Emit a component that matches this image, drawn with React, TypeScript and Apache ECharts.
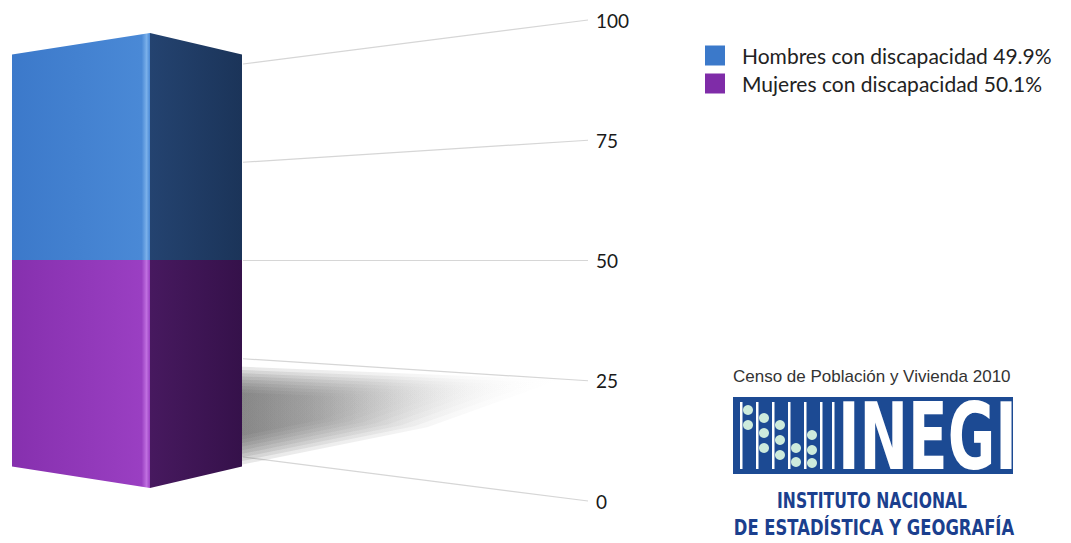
import React, { useEffect, useRef } from 'react';
import * as echarts from 'echarts';

// ---- data ----
const categories = ['Población con discapacidad'];
const seriesNames = ['Hombres con discapacidad', 'Mujeres con discapacidad'];
const hombres = [49.9];
const mujeres = [50.1];
const yTicks = [0, 25, 50, 75, 100];
const yMin = 0;
const yMax = 100;
const yInterval = 25;
const sourceText = 'Censo de Población y Vivienda 2010';
const logoWord = 'INEGI';
const instLine1 = 'INSTITUTO NACIONAL';
const instLine2 = 'DE ESTADÍSTICA Y GEOGRAFÍA';

// perspective factors (relative to eye level)
const FRONT_K = 0.946;
const SIDE_K = 0.857;
const GRID_K = 0.817;
const FRONT_POS = 0.6;

const pct: Record<string, number> = {
  [seriesNames[0]]: hombres[0],
  [seriesNames[1]]: mujeres[0],
};

export default function App() {
  const ref = useRef<HTMLDivElement>(null);

  useEffect(() => {
    const chart = echarts.init(ref.current!, null, { renderer: 'svg' });
    const eyeValue = (yMin + yMax) / 2;

    const persp = (api: any, x: number, v: number, k: number) => {
      const y = api.coord([x, v])[1];
      const e = api.coord([x, eyeValue])[1];
      return e + (y - e) * k;
    };

    const makeBar = (leftColors: string[], rightColors: string[], withShadow: boolean) =>
      (params: any, api: any) => {
        const cat = api.value(0);
        const v0 = api.value(1);
        const v1 = api.value(2);
        const cx = api.coord([cat, v0])[0];
        const bw = api.size([1, 0])[0];
        const xl = cx - bw / 2;
        const xr = cx + bw / 2;
        const xf = xl + bw * FRONT_POS;
        const children: any[] = [];
        if (withShadow) {
          const yb = persp(api, cat, yMin, SIDE_K);
          const h = yb - persp(api, cat, yMax, SIDE_K);
          const base = [
            [xr - 0.1 * bw, yb - 0.23 * h],
            [xr + 1.2 * bw, yb - 0.2 * h],
            [xr + 0.7 * bw, yb - 0.1 * h],
            [xr - 0.1 * bw, yb - 0.01 * h],
          ];
          const ax = xr;
          const ay = yb - 0.13 * h;
          const layers = 9;
          for (let i = 0; i < layers; i++) {
            const s = 1.15 - i * 0.08;
            children.push({
              type: 'polygon',
              shape: { points: base.map(([px, py]) => [ax + (px - ax) * s, ay + (py - ay) * s]) },
              style: {
                fill: new echarts.graphic.LinearGradient(0, 0, 1, 0, [
                  { offset: 0, color: 'rgba(95,95,95,0.16)' },
                  { offset: 0.5, color: 'rgba(120,120,120,0.1)' },
                  { offset: 1, color: 'rgba(200,200,200,0)' },
                ]),
              },
            });
          }
        }
        children.push({
          type: 'polygon',
          shape: {
            points: [
              [xl, persp(api, cat, v0, SIDE_K)],
              [xf, persp(api, cat, v0, FRONT_K)],
              [xf, persp(api, cat, v1, FRONT_K)],
              [xl, persp(api, cat, v1, SIDE_K)],
            ],
          },
          style: {
            fill: new echarts.graphic.LinearGradient(0, 0, 1, 0, [
              { offset: 0, color: leftColors[0] },
              { offset: 0.94, color: leftColors[1] },
              { offset: 0.975, color: leftColors[2] },
              { offset: 1, color: leftColors[1] },
            ]),
          },
        });
        children.push({
          type: 'polygon',
          shape: {
            points: [
              [xf, persp(api, cat, v0, FRONT_K)],
              [xr, persp(api, cat, v0, SIDE_K)],
              [xr, persp(api, cat, v1, SIDE_K)],
              [xf, persp(api, cat, v1, FRONT_K)],
            ],
          },
          style: {
            fill: new echarts.graphic.LinearGradient(0, 0, 1, 0, [
              { offset: 0, color: rightColors[0] },
              { offset: 1, color: rightColors[1] },
            ]),
          },
        });
        return { type: 'group', children };
      };

    const gridLineItem = (params: any, api: any) => {
      const v = api.value(1);
      const [xa, ya] = api.coord([0, v]);
      const [xb, yb] = api.coord([1, v]);
      const e = api.coord([0, eyeValue])[1];
      return {
        type: 'line',
        shape: { x1: xa, y1: e + (ya - e) * GRID_K, x2: xb, y2: yb },
        style: { stroke: '#d6d6d6', lineWidth: 1.2 },
      };
    };

    const rods = [740, 756, 772, 788, 804, 820, 832];
    const beads: number[][] = [
      [748, 410], [748, 425],
      [764, 418], [764, 433], [764, 448],
      [780, 425], [780, 440], [780, 455],
      [796, 448], [796, 462],
      [812, 435], [812, 450], [812, 463],
    ];

    const graphic: any[] = [
      {
        type: 'text', x: 733, y: 376,
        style: { text: sourceText, fill: '#333', fontSize: 17, fontFamily: '"Liberation Sans", Arial, sans-serif', textVerticalAlign: 'middle' },
      },
      { type: 'rect', shape: { x: 733, y: 397, width: 280, height: 77 }, style: { fill: '#1c4a93' } },
      ...rods.map((x) => ({ type: 'rect', shape: { x, y: 402, width: 2.5, height: 67 }, style: { fill: '#ffffff' } })),
      ...beads.map(([x, y]) => ({ type: 'circle', shape: { cx: x, cy: y, r: 5 }, style: { fill: '#cdebdc' } })),
      {
        type: 'text', x: 838, y: 437, scaleX: 0.63,
        style: { text: logoWord, fill: '#ffffff', fontSize: 92, fontWeight: 'bold', fontFamily: '"DejaVu Sans", sans-serif', textVerticalAlign: 'middle' },
      },
      {
        type: 'text', x: 872, y: 500, scaleX: 0.71,
        style: { text: instLine1, fill: '#1b3f8e', fontSize: 22, fontWeight: 'bold', fontFamily: '"DejaVu Sans", sans-serif', textAlign: 'center', textVerticalAlign: 'middle' },
      },
      {
        type: 'text', x: 874, y: 528, scaleX: 0.746,
        style: { text: instLine2, fill: '#1b3f8e', fontSize: 22, fontWeight: 'bold', fontFamily: '"DejaVu Sans", sans-serif', textAlign: 'center', textVerticalAlign: 'middle' },
      },
    ];

    chart.setOption({
      animation: false,
      backgroundColor: '#ffffff',
      legend: {
        orient: 'vertical',
        left: 705,
        top: 45,
        padding: 0,
        itemWidth: 20,
        itemHeight: 20,
        itemGap: 7,
        icon: 'rect',
        data: seriesNames,
        formatter: (name: string) => `${name} ${pct[name]}%`,
        textStyle: { fontSize: 21, fontFamily: 'Lato, sans-serif', color: '#222', padding: [0, 0, 0, 12] },
      },
      grid: [
        { left: 12, width: 230, top: 20, bottom: 42 },
        { left: 243, right: 483, top: 20, bottom: 42 },
      ],
      xAxis: [
        { type: 'category', gridIndex: 0, data: categories, show: false },
        { type: 'value', gridIndex: 1, min: 0, max: 1, show: false },
      ],
      yAxis: [
        { type: 'value', gridIndex: 0, min: yMin, max: yMax, interval: yInterval, show: false },
        {
          type: 'value', gridIndex: 1, position: 'right', min: yMin, max: yMax, interval: yInterval,
          axisLine: { show: false }, axisTick: { show: false }, splitLine: { show: false },
          axisLabel: { margin: 8, color: '#1a1a1a', fontSize: 19, fontFamily: 'Lato, sans-serif' },
        },
      ],
      series: [
        {
          type: 'custom', name: 'gridlines', xAxisIndex: 1, yAxisIndex: 1,
          data: yTicks.map((v) => [0, v]),
          encode: { x: 0, y: 1 },
          renderItem: gridLineItem,
          silent: true, z: 1,
        },
        {
          type: 'custom', name: seriesNames[1], xAxisIndex: 0, yAxisIndex: 0,
          itemStyle: { color: '#7f2ca8' },
          data: categories.map((c, i) => [i, 0, mujeres[i]]),
          encode: { x: 0, y: [1, 2] },
          renderItem: makeBar(['#8630ae', '#9a3fc2', '#c070e0'], ['#47195f', '#35114a'], true),
          z: 2,
        },
        {
          type: 'custom', name: seriesNames[0], xAxisIndex: 0, yAxisIndex: 0,
          itemStyle: { color: '#3b79ca' },
          data: categories.map((c, i) => [i, mujeres[i], mujeres[i] + hombres[i]]),
          encode: { x: 0, y: [1, 2] },
          renderItem: makeBar(['#3c79ca', '#4a89d6', '#7ab0ea'], ['#244370', '#1b3459'], false),
          z: 3,
        },
      ],
      graphic,
    });

    return () => chart.dispose();
  }, []);

  return <div ref={ref} style={{ position: 'absolute', left: 0, top: 0, width: 1071, height: 543 }} />;
}
